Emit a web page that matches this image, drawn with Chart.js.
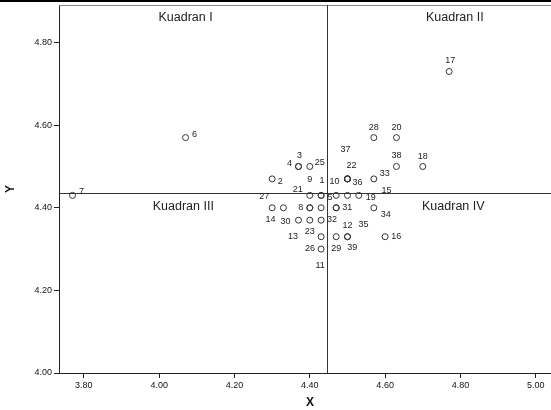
<!DOCTYPE html>
<html>
<head>
<meta charset="utf-8">
<script src="https://cdn.jsdelivr.net/npm/chart.js@4.4.1/dist/chart.umd.min.js"></script>
<style>
  html, body { margin: 0; padding: 0; background: #fff; overflow: hidden; }
  #wrap { position: relative; width: 551px; height: 410px; overflow: hidden; }
  #topline { position: absolute; left: 0; top: 0; width: 100%; height: 2px; background: #000; z-index: 2; }
  canvas { position: absolute; left: 0; top: 0; }
</style>
</head>
<body>
<div id="wrap">
  <div id="topline"></div>
  <canvas id="c" width="565" height="410"></canvas>
</div>
<script>
// ---- data ----
const caseIds = [1,2,3,4,5,6,7,8,9,10,11,12,13,14,15,16,17,18,19,20,21,22,23,24,25,26,27,28,29,30,31,32,33,34,35,36,37,38,39];
const xValues = [4.43,4.30,4.37,4.37,4.43,4.07,3.77,4.40,4.40,4.50,4.43,4.50,4.43,4.33,4.50,4.60,4.77,4.70,4.53,4.63,
                 4.40,4.50,4.40,4.47,4.40,4.43,4.30,4.57,4.47,4.37,4.47,4.43,4.57,4.57,4.50,4.50,4.50,4.63,4.47];
const yValues = [4.43,4.47,4.50,4.50,4.43,4.57,4.43,4.40,4.43,4.47,4.30,4.33,4.40,4.40,4.43,4.33,4.73,4.50,4.43,4.57,
                 4.40,4.47,4.37,4.43,4.50,4.33,4.40,4.57,4.33,4.37,4.40,4.37,4.47,4.40,4.33,4.47,4.47,4.50,4.40];
const xTickValues = [3.80,4.00,4.20,4.40,4.60,4.80,5.00];
const yTickValues = [4.00,4.20,4.40,4.60,4.80];
const quadrantNames = ['Kuadran I','Kuadran II','Kuadran III','Kuadran IV'];
const meanX = 4.445;
const meanY = 4.437;
const xTitle = 'X';
const yTitle = 'Y';

// ---- layout / style (not data) ----
// label offsets in pixels from each point (null = label hidden)
const labelOffsets = {
  1:[1,-15], 2:[8,3], 3:[1,-11], 4:[-9,-3], 5:[9,2], 6:[9,-3], 7:[9,-4], 8:[-9,0], 9:[0,-16], 10:[-13,3],
  11:[-1,16], 12:[0,-11], 13:[-28,29], 14:[-13,12], 15:[39,-5], 16:[11,0], 17:[1,-11], 18:[0,-10], 19:[12,2], 20:[0,-10],
  21:[-12,-18], 22:[4,-13], 23:[0,11], 24:null, 25:[10,-4], 26:[-11,12], 27:[-8,-11], 28:[0,-10], 29:[0,12], 30:[-13,1],
  31:[11,0], 32:[11,-1], 33:[11,-5], 34:[12,7], 35:[16,-12], 36:[10,4], 37:[-2,-29], 38:[0,-11], 39:[16,40]
};
const quadrantAnchors = [[4.070,4.860],[4.785,4.860],[4.064,4.402],[4.781,4.402]];
const FONT = '"Liberation Sans", Arial, Helvetica, sans-serif';

const points = xValues.map((x, i) => ({ x: x, y: yValues[i] }));

const decorPlugin = {
  id: 'decor',
  beforeDatasetsDraw(chart) {
    const ctx = chart.ctx;
    const { left, right, top, bottom } = chart.chartArea;
    const xs = chart.scales.x, ys = chart.scales.y;
    ctx.save();
    // top frame
    ctx.strokeStyle = '#8a8a8a';
    ctx.lineWidth = 1;
    ctx.beginPath();
    ctx.moveTo(left, Math.round(top) + 0.5);
    ctx.lineTo(right, Math.round(top) + 0.5);
    ctx.stroke();
    // reference lines at the means
    ctx.strokeStyle = '#333';
    const px = Math.round(xs.getPixelForValue(meanX)) + 0.5;
    const py = Math.round(ys.getPixelForValue(meanY)) + 0.5;
    ctx.beginPath();
    ctx.moveTo(px, top); ctx.lineTo(px, bottom);
    ctx.moveTo(left, py); ctx.lineTo(right, py);
    ctx.stroke();
    // quadrant names
    ctx.fillStyle = '#222';
    ctx.font = '12.5px ' + FONT;
    ctx.textAlign = 'center';
    ctx.textBaseline = 'middle';
    quadrantNames.forEach((t, i) => {
      const a = quadrantAnchors[i];
      ctx.fillText(t, xs.getPixelForValue(a[0]), ys.getPixelForValue(a[1]));
    });
    ctx.restore();
  },
  afterDatasetsDraw(chart) {
    const ctx = chart.ctx;
    const meta = chart.getDatasetMeta(0);
    ctx.save();
    ctx.font = '9px ' + FONT;
    ctx.fillStyle = '#222';
    ctx.textAlign = 'center';
    ctx.textBaseline = 'middle';
    meta.data.forEach((el, i) => {
      const off = labelOffsets[caseIds[i]];
      if (!off) return;
      ctx.fillText(String(caseIds[i]), el.x + off[0], el.y + off[1]);
    });
    ctx.restore();
  }
};

new Chart(document.getElementById('c'), {
  type: 'scatter',
  data: {
    datasets: [{
      data: points,
      pointStyle: 'circle',
      pointRadius: 3,
      pointHoverRadius: 3,
      borderWidth: 1,
      borderColor: '#333',
      backgroundColor: 'rgba(0,0,0,0)'
    }]
  },
  options: {
    responsive: false,
    devicePixelRatio: 1,
    animation: false,
    events: [],
    layout: { padding: { top: 5, right: 1, bottom: 0, left: 0 } },
    plugins: { legend: { display: false }, tooltip: { enabled: false } },
    scales: {
      x: {
        type: 'linear',
        min: 3.734,
        max: 5.067,
        afterBuildTicks: s => { s.ticks = xTickValues.map(v => ({ value: v })); },
        afterFit: s => { s.height = 37; s.paddingLeft = 0; s.paddingRight = 0; },
        ticks: {
          callback: v => Number(v).toFixed(2),
          font: { size: 9, family: FONT },
          color: '#111',
          padding: 2,
          maxRotation: 0,
          autoSkip: false
        },
        grid: { display: true, drawOnChartArea: false, drawTicks: true, tickLength: 5, tickColor: '#222' },
        border: { display: true, color: '#222', width: 1 },
        title: { display: true, text: xTitle, font: { size: 12, weight: 'bold', family: FONT }, color: '#111', padding: { top: 0, bottom: 0 } }
      },
      y: {
        type: 'linear',
        min: 4.00,
        max: 4.891,
        afterBuildTicks: s => { s.ticks = yTickValues.map(v => ({ value: v })); },
        afterFit: s => { s.width = 59; s.paddingTop = 0; s.paddingBottom = 0; },
        ticks: {
          callback: v => Number(v).toFixed(2),
          font: { size: 9, family: FONT },
          color: '#111',
          padding: 2,
          autoSkip: false
        },
        grid: { display: true, drawOnChartArea: false, drawTicks: true, tickLength: 5, tickColor: '#222' },
        border: { display: true, color: '#222', width: 1 },
        title: { display: true, text: yTitle, font: { size: 12, weight: 'bold', family: FONT }, color: '#111', padding: { top: 3, bottom: 0 } }
      }
    }
  },
  plugins: [decorPlugin]
});
</script>
</body>
</html>
